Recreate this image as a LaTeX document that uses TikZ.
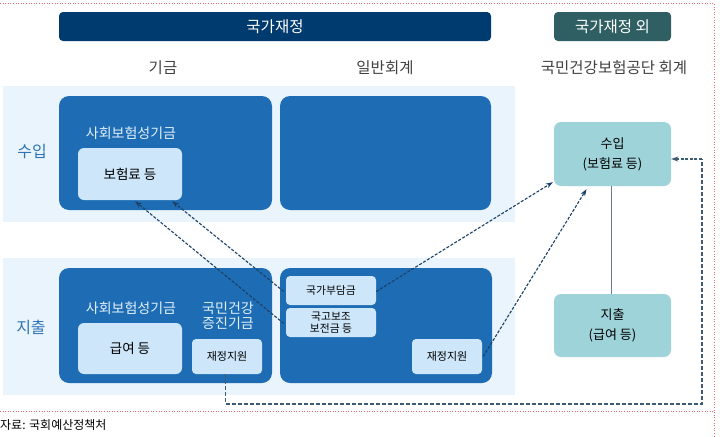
\documentclass[tikz,border=0pt]{standalone}
\usepackage{fontspec}
\setmainfont{Noto Sans CJK KR}
\usetikzlibrary{calc,arrows.meta}
\definecolor{navy}{HTML}{003B6F}
\definecolor{tealdark}{HTML}{2F5F62}
\definecolor{band}{HTML}{EAF4FD}
\definecolor{bigblue}{HTML}{1E6DB4}
\definecolor{inner}{HTML}{CDE6F9}
\definecolor{nhis}{HTML}{9ED3D9}
\definecolor{vline}{HTML}{6E9CC9}
\definecolor{arrowc}{HTML}{1B3F66}
\definecolor{loopc}{HTML}{3D5C73}
\definecolor{headtxt}{HTML}{404040}
\definecolor{sidetxt}{HTML}{2E75B6}
\definecolor{frame}{HTML}{E07070}
\tikzset{
  bar/.style={fill=#1, rounded corners=4pt, text=white, font=\fontsize{15.5}{17}\selectfont, inner sep=0pt},
  bandbox/.style={fill=band, inner sep=0pt},
  bigbox/.style={fill=bigblue, rounded corners=10pt, inner sep=0pt},
  innerbox/.style={fill=inner, rounded corners=6pt, inner sep=0pt, text=black, align=center},
  nhisbox/.style={fill=nhis, rounded corners=7pt, inner sep=0pt, text=black, align=center, font=\fontsize{13}{20}\selectfont},
  headtext/.style={text=headtxt, font=\fontsize{15.5}{17}\selectfont, inner sep=0pt},
  sidetext/.style={text=sidetxt, font=\fontsize{16}{18}\selectfont, inner sep=0pt},
  boxlabel/.style={text=inner!60!white, font=\fontsize{14}{15}\selectfont, inner sep=0pt, align=center},
  vconn/.style={draw=vline, line width=0.8pt},
  darrow/.style={draw=arrowc, line width=1.1pt, dash pattern=on 3pt off 1.6pt, -{Stealth[length=7pt,width=5pt]}},
  loopline/.style={draw=loopc, line width=1.3pt, dash pattern=on 4pt off 2pt},
}
\begin{document}
\begin{tikzpicture}[x=1pt,y=-1pt]
\useasboundingbox (0,0) rectangle (724,437);
% frame
\draw[frame, dotted, line width=0.6pt] (0,3) -- (714,3) -- (714,437);
\draw[frame, dotted, line width=0.6pt] (0,411) -- (714,411);
% top bars
\node[bar=navy, minimum width=432pt, minimum height=29pt] (bar1) at (275,26.5) {국가재정};
\node[bar=tealdark, minimum width=117pt, minimum height=29pt] (bar2) at (612.5,26.5) {국가재정 외};
% headers
\node[headtext] (h1) at (163,68) {기금};
\node[headtext] (h2) at (385,68) {일반회계};
\node[headtext] (h3) at (614,68) {국민건강보험공단 회계};
% bands
\node[bandbox, minimum width=512pt, minimum height=136pt] (band1) at (259,154) {};
\node[bandbox, minimum width=512pt, minimum height=137pt] (band2) at (259,326.5) {};
% side labels
\node[sidetext] (lin) at (32,152) {수입};
\node[sidetext] (lout) at (31,327) {지출};
% big boxes
\node[bigbox, minimum width=213pt, minimum height=114pt] (fi) at (165.5,153) {};
\node[bigbox, minimum width=211pt, minimum height=114pt] (gi) at (385.5,153) {};
\node[bigbox, minimum width=213pt, minimum height=115pt] (fe) at (165.5,325.5) {};
\node[bigbox, minimum width=212pt, minimum height=115pt] (ge) at (386,325.5) {};
% labels in boxes
\node[boxlabel] (l1) at (131,133) {사회보험성기금};
\node[boxlabel] (l2) at (131,308) {사회보험성기금};
\node[boxlabel, font=\fontsize{14}{14.5}\selectfont] (l3) at (228,316) {국민건강\\증진기금};
% inner boxes
\node[innerbox, minimum width=104pt, minimum height=52pt, font=\fontsize{13.5}{15}\selectfont] (prem) at (130,174) {보험료 등};
\node[innerbox, minimum width=104pt, minimum height=51pt, font=\fontsize{13.5}{15}\selectfont] (ben) at (130,348.5) {급여 등};
\node[innerbox, minimum width=70pt, minimum height=35pt, rounded corners=4pt, font=\fontsize{11}{12}\selectfont] (fsup) at (227,356.5) {재정지원};
\node[innerbox, minimum width=90pt, minimum height=29pt, rounded corners=4pt, font=\fontsize{10.8}{12}\selectfont] (nat) at (331,290.5) {국가부담금};
\node[innerbox, minimum width=90pt, minimum height=29pt, rounded corners=4pt, font=\fontsize{10.8}{12}\selectfont] (sub) at (331,322.5) {국고보조\\보전금 등};
\node[innerbox, minimum width=70pt, minimum height=35pt, rounded corners=4pt, font=\fontsize{11}{12}\selectfont] (gsup) at (447,356.5) {재정지원};
% NHIS boxes
\node[nhisbox, minimum width=117pt, minimum height=64pt] (nin) at (612.5,154) {수입\\(보험료 등)};
\node[nhisbox, minimum width=117pt, minimum height=63pt] (nout) at (612.5,325.5) {지출\\(급여 등)};
% vertical connectors
\draw[vconn] ($(prem.south)+(-3,0)$) -- ($(prem.south)+(-3,0)$ |- fe.north);
\draw[vconn] ($(gi.south)+(-1.5,0)$) -- ($(gi.south)+(-1.5,0)$ |- ge.north);
\draw[draw=loopc!80, line width=0.8pt] ($(nin.south)+(-1.5,0)$) -- ($(nout.north)+(-1.5,0)$);
% dashed arrows
\draw[darrow] ($(nat.west)+(-2,1)$) -- ($(prem.south east)+(-10,1)$);
\draw[darrow] ($(sub.west)+(-2,1)$) -- ($(prem.south)+(5,1)$);
\draw[darrow] ($(nat.east)+(0,1)$) -- ($(nin.south west)+(-1,-4)$);
\draw[darrow] ($(gsup.east)+(1,0)$) -- ($(nin.south)+(-26,3)$);
% loop
\coordinate (c1) at (225.5,404);
\coordinate (c2) at (702,404);
\coordinate (c3) at (702,159);
\draw[loopline] ($(fsup.south)+(-1.5,0)$) -- (c1) -- (c2) -- (c3);
\draw[darrow, draw=loopc, line width=1.3pt] (c3) -- (nin.east |- c3);
% footer
\node[anchor=west, inner sep=0pt, font=\fontsize{12}{13}\selectfont] (src) at (0,425) {자료: 국회예산정책처};
\end{tikzpicture}
\end{document}
